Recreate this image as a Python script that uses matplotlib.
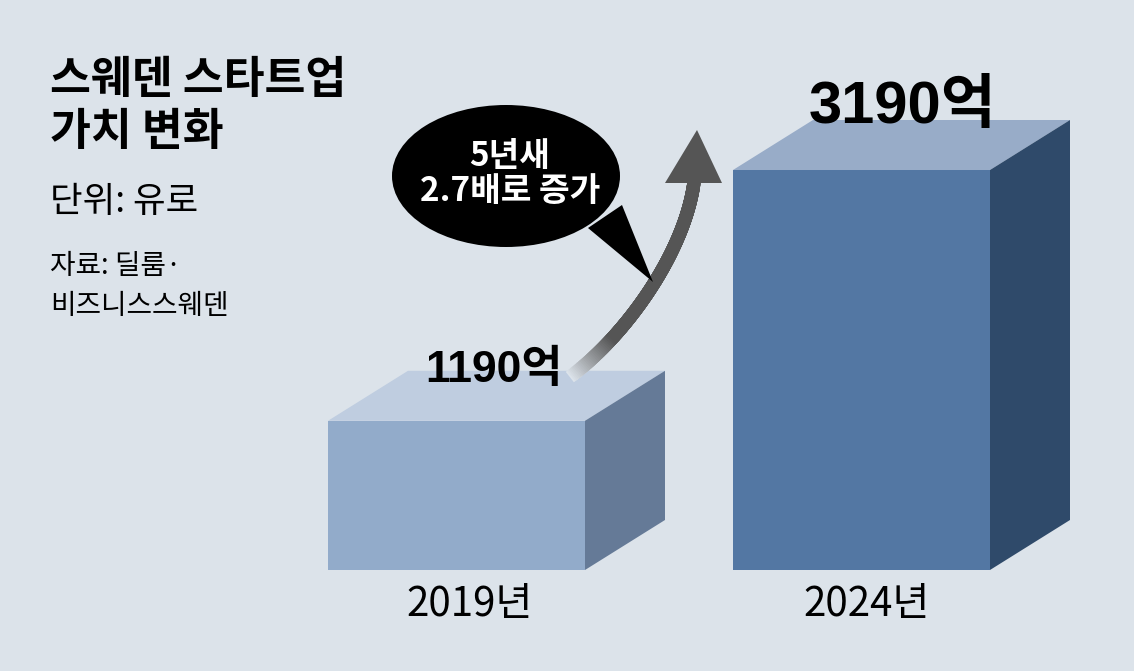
import matplotlib
matplotlib.use("Agg")
import matplotlib.pyplot as plt
from matplotlib.patches import Polygon, Ellipse
from matplotlib.collections import LineCollection
import numpy as np

plt.rcParams['font.family'] = ['Noto Sans CJK KR', 'DejaVu Sans']

# data
years = ['2019년', '2024년']
values = [1190, 3190]
value_labels = ['1190', '3190']
title = '스웨덴 스타트업\n가치 변화'
unit_text = '단위: 유로'
source_text = '자료: 딜룸·\n비즈니스스웨덴'
bubble_text = '5년새\n2.7배로 증가'

# style
BG = '#dce3ea'
FRONT = ['#92abca', '#5377a3']
TOP = ['#bfcde0', '#98acc8']
SIDE = ['#657a97', '#2f4a6a']

W, H = 1134, 671
fig = plt.figure(figsize=(W / 100, H / 100), dpi=100)
fig.patch.set_facecolor(BG)

# bar axes: x in pixels, y in value units (0 at pixel row 570)
base_px = 570
px_per_unit = 400 / 3190
ax = fig.add_axes([0, 0, 1, 1])
ax.set_xlim(0, W)
ax.set_ylim(-(H - base_px) / px_per_unit, base_px / px_per_unit)
ax.axis('off')

centers = [456.5, 861.5]
bar_w = 257
dx = 80
dv = 50 / px_per_unit

bars = ax.bar(centers, values, width=bar_w, color=FRONT, edgecolor='none', zorder=2)
for i, b in enumerate(bars):
    x0 = b.get_x()
    x1 = x0 + b.get_width()
    v = b.get_height()
    top = Polygon([(x0, v), (x0 + dx, v + dv), (x1 + dx, v + dv), (x1, v)],
                  closed=True, facecolor=TOP[i], edgecolor='none', zorder=2)
    side = Polygon([(x1, 0), (x1 + dx, dv), (x1 + dx, v + dv), (x1, v)],
                   closed=True, facecolor=SIDE[i], edgecolor='none', zorder=2)
    ax.add_patch(top)
    ax.add_patch(side)

# overlay axes in pixel coordinates for annotations
ov = fig.add_axes([0, 0, 1, 1], zorder=3)
ov.set_xlim(0, W)
ov.set_ylim(H, 0)
ov.axis('off')
ov.patch.set_alpha(0)

# curved arrow with fade-in gradient (cubic bezier)
p0, p1, p2, p3 = [np.array(p) for p in [(575, 373), (630, 330), (685, 250), (694, 182)]]
t = np.linspace(0, 1, 120)[:, None]
pts = ((1 - t) ** 3 * p0 + 3 * (1 - t) ** 2 * t * p1
       + 3 * (1 - t) * t ** 2 * p2 + t ** 3 * p3)
segs = np.stack([pts[:-1], pts[1:]], axis=1)
fade = np.clip(np.linspace(0, 1, len(segs)) / 0.25, 0, 1)
bg_rgb = np.array(matplotlib.colors.to_rgb(BG))
dark = np.array(matplotlib.colors.to_rgb('#555555'))
cols = [(1 - f) * bg_rgb + f * dark for f in fade]
ov.add_collection(LineCollection(segs, colors=cols, linewidths=9.5,
                                 capstyle='projecting', zorder=3))
ov.add_patch(Polygon([(697, 130), (665, 183), (722, 183)], closed=True,
                     facecolor='#555555', edgecolor='none', zorder=3))

# speech bubble
ov.add_patch(Ellipse((506, 176), 228, 142, facecolor='black', edgecolor='none', zorder=4))
ov.add_patch(Polygon([(588, 228), (622, 205), (653, 282)], closed=True,
                     facecolor='black', edgecolor='none', zorder=4))
ov.text(510, 174, bubble_text, ha='center', va='center', color='white',
        fontsize=24, fontweight='bold', linespacing=1.1, zorder=5)

# value labels
num_family = ['Liberation Sans', 'Noto Sans CJK KR']
ov.text(494, 370, value_labels[0] + '억', ha='center', va='center', fontsize=32,
        fontweight='bold', family=num_family, zorder=5)
ov.text(903, 107, value_labels[1] + '억', ha='center', va='center', fontsize=43,
        fontweight='bold', family=num_family, zorder=5)

# year labels
for cx, yr in zip([470, 867], years):
    ov.text(cx, 604, yr, ha='center', va='center', fontsize=29, zorder=5)

# title and notes
ov.text(50, 106, title, ha='left', va='center', fontsize=32, fontweight='bold',
        linespacing=1.15, zorder=5)
ov.text(50, 202, unit_text, ha='left', va='center', fontsize=25.5, zorder=5)
ov.text(50, 286, source_text, ha='left', va='center', fontsize=20, linespacing=1.4, zorder=5)

fig.savefig('out.png', dpi=100, facecolor=BG)
